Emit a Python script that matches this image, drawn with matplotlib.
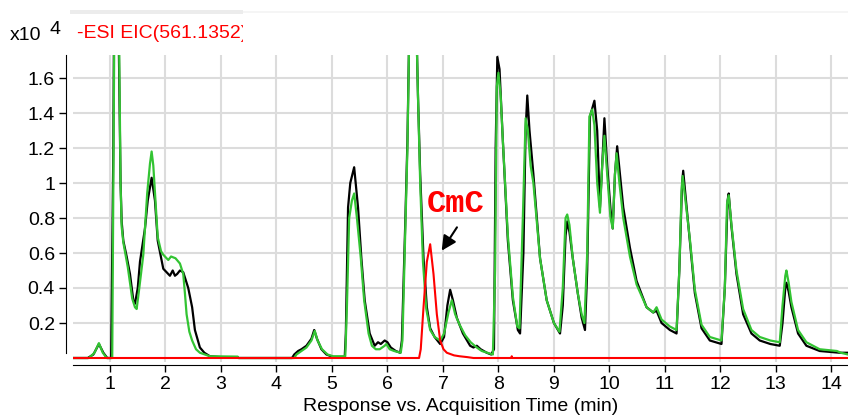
import matplotlib
matplotlib.use("Agg")
import matplotlib.pyplot as plt
from matplotlib.patches import Rectangle

plt.rcParams['font.family'] = ['Liberation Sans', 'DejaVu Sans']

# black trace (time in min, response x10^4)
t_black = [0.35, 0.60, 0.70, 0.80, 0.88, 0.95, 1.02, 1.06, 1.09, 1.13, 1.17, 1.19, 1.21, 1.24,
           1.30, 1.36, 1.42, 1.45, 1.50, 1.54, 1.63, 1.68, 1.75, 1.81, 1.86, 1.96, 2.08, 2.13,
           2.17, 2.21, 2.26, 2.32, 2.37, 2.41, 2.48, 2.53, 2.62, 2.70, 2.80, 3.00, 3.30, 3.32,
           4.28, 4.32, 4.39, 4.45, 4.54, 4.63, 4.68, 4.73, 4.81, 4.90, 5.02, 5.23, 5.25, 5.29,
           5.33, 5.40, 5.47, 5.53, 5.59, 5.68, 5.77, 5.83, 5.88, 5.95, 6.00, 6.06, 6.15, 6.23,
           6.26, 6.32, 6.36, 6.40, 6.45, 6.50, 6.55, 6.59, 6.65, 6.71, 6.77, 6.85, 6.95, 7.02,
           7.08, 7.13, 7.18, 7.25, 7.36, 7.49, 7.55, 7.61, 7.68, 7.79, 7.87, 7.92, 7.95, 7.98,
           8.02, 8.08, 8.17, 8.26, 8.35, 8.39, 8.45, 8.49, 8.52, 8.56, 8.63, 8.75, 8.87, 9.00,
           9.11, 9.16, 9.21, 9.24, 9.28, 9.34, 9.43, 9.50, 9.56, 9.60, 9.65, 9.73, 9.78, 9.83,
           9.87, 9.91, 9.96, 10.02, 10.06, 10.10, 10.14, 10.19, 10.25, 10.37, 10.49, 10.67,
           10.79, 10.85, 10.94, 11.09, 11.21, 11.26, 11.31, 11.33, 11.38, 11.45, 11.54, 11.66,
           11.81, 12.02, 12.08, 12.13, 12.15, 12.20, 12.29, 12.41, 12.56, 12.71, 12.90, 13.07,
           13.12, 13.17, 13.19, 13.23, 13.28, 13.40, 13.55, 13.79, 14.15, 14.30]
v_black = [0, 0, 0.02, 0.08, 0.03, 0, 0, 1.2, 3.0, 2.5, 1.5, 1.0, 0.78, 0.67,
           0.58, 0.48, 0.33, 0.31, 0.40, 0.55, 0.74, 0.90, 1.03, 0.90, 0.67, 0.51, 0.47, 0.50,
           0.47, 0.48, 0.50, 0.49, 0.44, 0.40, 0.29, 0.16, 0.06, 0.03, 0.01, 0.005, 0.005, 0,
           0, 0.02, 0.04, 0.05, 0.07, 0.11, 0.16, 0.11, 0.05, 0.02, 0.006, 0.006, 0.14, 0.86,
           1.0, 1.09, 0.86, 0.57, 0.33, 0.14, 0.07, 0.09, 0.08, 0.10, 0.09, 0.06, 0.04, 0.03,
           0.10, 0.76, 1.24, 2.0, 3.0, 2.2, 1.5, 1.05, 0.57, 0.29, 0.17, 0.12, 0.08, 0.12,
           0.30, 0.39, 0.33, 0.23, 0.14, 0.07, 0.06, 0.07, 0.05, 0.03, 0.02, 0.05, 1.2, 1.72,
           1.65, 1.24, 0.67, 0.33, 0.16, 0.14, 0.6, 1.3, 1.50, 1.30, 1.05, 0.57, 0.33, 0.2,
           0.14, 0.3, 0.70, 0.78, 0.72, 0.57, 0.37, 0.23, 0.16, 0.5, 1.38, 1.47, 1.3, 0.86,
           1.1, 1.37, 1.1, 0.85, 0.74, 1.05, 1.21, 1.05, 0.86, 0.63, 0.44, 0.29,
           0.26, 0.27, 0.20, 0.16, 0.14, 0.5, 1.0, 1.07, 0.9, 0.67, 0.37, 0.17,
           0.10, 0.08, 0.4, 0.90, 0.94, 0.75, 0.48, 0.25, 0.14, 0.10, 0.08, 0.07,
           0.2, 0.40, 0.43, 0.38, 0.29, 0.14, 0.07, 0.04, 0.03, 0.03]

# green trace
t_green = [0.35, 0.62, 0.72, 0.80, 0.87, 0.94, 1.04, 1.07, 1.10, 1.14, 1.17, 1.19, 1.21, 1.24,
           1.32, 1.40, 1.45, 1.48, 1.52, 1.60, 1.67, 1.72, 1.75, 1.78, 1.81, 1.86, 1.92, 1.96,
           2.05, 2.10, 2.18, 2.26, 2.32, 2.35, 2.38, 2.43, 2.48, 2.55, 2.62, 2.80, 3.30, 3.31,
           4.32, 4.36, 4.45, 4.54, 4.63, 4.69, 4.74, 4.82, 4.92, 5.02, 5.24, 5.27, 5.31, 5.36,
           5.40, 5.45, 5.52, 5.58, 5.66, 5.72, 5.79, 5.86, 5.95, 5.98, 6.04, 6.12, 6.24, 6.27,
           6.32, 6.36, 6.40, 6.45, 6.50, 6.55, 6.59, 6.64, 6.70, 6.77, 6.85, 6.95, 7.02, 7.10,
           7.16, 7.22, 7.30, 7.40, 7.50, 7.61, 7.70, 7.80, 7.90, 7.94, 7.97, 8.00, 8.04, 8.08,
           8.17, 8.26, 8.34, 8.38, 8.44, 8.49, 8.53, 8.58, 8.63, 8.75, 8.87, 9.00, 9.10, 9.16,
           9.21, 9.24, 9.28, 9.34, 9.43, 9.50, 9.55, 9.60, 9.64, 9.69, 9.73, 9.78, 9.83, 9.87,
           9.91, 9.96, 10.02, 10.06, 10.10, 10.13, 10.18, 10.25, 10.37, 10.49, 10.67, 10.79,
           10.85, 10.94, 11.09, 11.21, 11.26, 11.30, 11.32, 11.37, 11.45, 11.54, 11.66, 11.81,
           12.02, 12.08, 12.12, 12.15, 12.20, 12.29, 12.41, 12.56, 12.71, 12.90, 13.07, 13.12,
           13.17, 13.19, 13.23, 13.28, 13.40, 13.55, 13.79, 14.10, 14.17, 14.30]
v_green = [0, 0, 0.03, 0.085, 0.03, 0, 0, 1.5, 3.0, 2.6, 1.6, 1.0, 0.75, 0.66,
           0.52, 0.34, 0.29, 0.28, 0.38, 0.59, 0.94, 1.11, 1.18, 1.10, 0.95, 0.69, 0.61, 0.59,
           0.56, 0.58, 0.57, 0.54, 0.48, 0.37, 0.25, 0.15, 0.10, 0.05, 0.03, 0.01, 0.008, 0,
           0, 0.02, 0.04, 0.06, 0.10, 0.155, 0.10, 0.05, 0.02, 0.01, 0.01, 0.3, 0.80, 0.90,
           0.94, 0.80, 0.57, 0.33, 0.14, 0.07, 0.05, 0.05, 0.07, 0.08, 0.05, 0.04, 0.03, 0.10,
           0.70, 1.2, 2.0, 3.0, 2.2, 1.5, 1.0, 0.55, 0.28, 0.16, 0.12, 0.10, 0.14, 0.26,
           0.33, 0.25, 0.19, 0.13, 0.09, 0.06, 0.04, 0.03, 0.02, 0.5, 1.55, 1.63, 1.50, 1.24,
           0.70, 0.35, 0.18, 0.17, 0.8, 1.37, 1.30, 1.10, 1.0, 0.57, 0.33, 0.2, 0.15, 0.4,
           0.80, 0.82, 0.76, 0.57, 0.37, 0.25, 0.20, 0.6, 1.38, 1.42, 1.33, 1.0, 0.83, 1.1,
           1.27, 1.05, 0.80, 0.74, 1.05, 1.17, 1.0, 0.80, 0.58, 0.42, 0.29, 0.26,
           0.29, 0.22, 0.18, 0.16, 0.5, 0.95, 1.04, 0.9, 0.68, 0.39, 0.19, 0.12,
           0.10, 0.4, 0.88, 0.93, 0.76, 0.50, 0.28, 0.16, 0.12, 0.10, 0.09, 0.3,
           0.47, 0.50, 0.43, 0.32, 0.16, 0.09, 0.05, 0.04, 0.03, 0.02]

# red EIC trace
t_red = [0.35, 6.57, 6.60, 6.65, 6.71, 6.77, 6.83, 6.89, 6.95, 7.01, 7.07, 7.20, 7.30, 7.44,
         7.55, 8.23, 8.24, 8.25, 14.30]
v_red = [0, 0, 0.05, 0.29, 0.55, 0.65, 0.48, 0.25, 0.10, 0.05, 0.03, 0.015, 0.01, 0.005,
         0, 0, 0.01, 0, 0]

x_ticks = list(range(1, 15))
y_ticks = [0.2, 0.4, 0.6, 0.8, 1.0, 1.2, 1.4, 1.6]
y_labels = ['0.2', '0.4', '0.6', '0.8', '1', '1.2', '1.4', '1.6']

W, H = 848, 417
FS = 14
fig = plt.figure(figsize=(W / 100, H / 100), dpi=100)
ax = fig.add_axes([73 / W, 1 - 362 / H, (W - 73) / W, (362 - 55) / H])

ax.plot(t_black, v_black, color='black', lw=1.6, zorder=3)
ax.plot(t_green, v_green, color='#33c433', lw=1.6, zorder=4)
ax.plot(t_red, v_red, color='#ff0000', lw=1.5, zorder=5)

ax.set_xlim(0.333, 14.30)
ax.set_ylim(-4 / 175, 303 / 175)
ax.set_xticks(x_ticks)
ax.set_yticks(y_ticks)
ax.set_yticklabels(y_labels)
ax.grid(True, color='#dcdcdc', lw=1.5)
ax.set_axisbelow(True)

for s in ['top', 'right']:
    ax.spines[s].set_visible(False)
ax.spines['left'].set_position(('outward', 5))
ax.spines['left'].set_bounds(0.03, 303 / 175)
ax.spines['bottom'].set_position(('outward', 2))
ax.tick_params(axis='both', direction='out', length=5, width=1, labelsize=FS, pad=3)

ax.set_xlabel('Response vs. Acquisition Time (min)', fontsize=FS, labelpad=4)

# header
fig.text(10 / W, 1 - 36 / H, 'x10', fontsize=FS, va='center', ha='left')
fig.text(50 / W, 1 - 30 / H, '4', fontsize=FS, va='center', ha='left')
fig.text(77 / W, 1 - 33 / H, '-ESI EIC(561.1352)', fontsize=FS, color='#ff0000',
         va='center', ha='left', zorder=3)
fig.patches.append(Rectangle((243 / W, 1 - 50 / H), (W - 243) / W, 37 / H,
                             transform=fig.transFigure, facecolor='white',
                             edgecolor='none', zorder=10))
fig.patches.append(Rectangle((70 / W, 1 - 14 / H), 173 / W, 4 / H,
                             transform=fig.transFigure, facecolor='#ececec',
                             edgecolor='none', zorder=11))
fig.patches.append(Rectangle((243 / W, 1 - 13 / H), (W - 243) / W, 2 / H,
                             transform=fig.transFigure, facecolor='#f5f5f5',
                             edgecolor='none', zorder=11))

# CmC annotation
ax.text(7.22, 0.88, 'CmC', color='#ff0000', fontsize=23, fontweight='bold',
        family='Liberation Mono', ha='center', va='center', zorder=6)
ax.annotate('', xy=(6.95, 0.60), xytext=(7.28, 0.76),
            arrowprops=dict(arrowstyle='-|>', color='black', lw=1.5, mutation_scale=22),
            zorder=6)

fig.savefig('out.png', dpi=100)
